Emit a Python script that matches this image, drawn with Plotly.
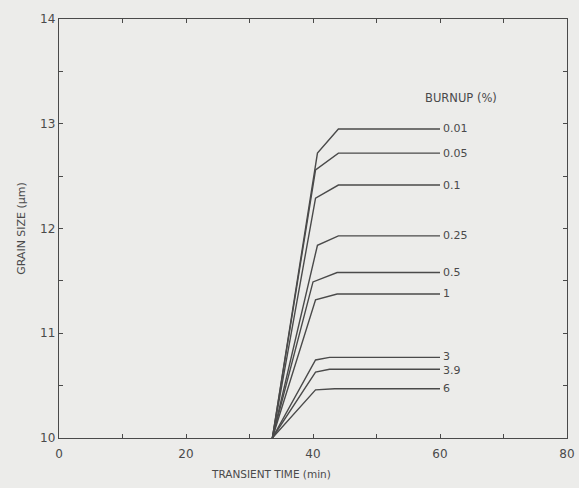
import plotly.graph_objects as go

burnup_labels = ["0.01", "0.05", "0.1", "0.25", "0.5", "1", "3", "3.9", "6"]
start_time = 33.6
start_size = 10.0
knee_time = [40.7, 40.4, 40.4, 40.7, 40.0, 40.4, 40.4, 40.4, 40.4]
knee_size = [12.72, 12.56, 12.29, 11.84, 11.49, 11.32, 10.745, 10.63, 10.46]
flat_time = [44.0, 44.0, 44.0, 44.0, 43.8, 43.8, 42.6, 42.6, 43.4]
final_size = [12.95, 12.72, 12.415, 11.93, 11.58, 11.375, 10.77, 10.656, 10.47]
end_time = 60.0

x_tick_vals = [0, 20, 40, 60, 80]
x_tick_text = ["0", "20", "40", "60", "80"]
y_tick_vals = [10, 11, 12, 13, 14]
y_tick_text = ["10", "11", "12", "13", "14"]

ink = "#4a4a4a"
bg = "#ececea"
font_family = "DejaVu Sans, Liberation Sans, sans-serif"

fig = go.Figure()
for i, lab in enumerate(burnup_labels):
    fig.add_trace(go.Scatter(
        x=[start_time, knee_time[i], flat_time[i], end_time],
        y=[start_size, knee_size[i], final_size[i], final_size[i]],
        mode="lines", line=dict(color=ink, width=1.4),
        showlegend=False, hoverinfo="skip"))
    yshift = 0
    if lab == "3":
        yshift = 1
    if lab == "3.9":
        yshift = -1
    fig.add_annotation(x=end_time, y=final_size[i], text=lab, showarrow=False,
                       xanchor="left", yanchor="middle", xshift=1, yshift=yshift,
                       font=dict(size=11, color=ink, family=font_family))

fig.add_annotation(x=63.3, y=13.25, text="BURNUP (%)", showarrow=False,
                   xanchor="center", yanchor="middle",
                   font=dict(size=11.5, color=ink, family=font_family))

fig.add_annotation(xref="paper", yref="paper", x=(271 - 59) / 508, y=-(474 - 438) / 419,
                   text="TRANSIENT TIME (min)", showarrow=False,
                   xanchor="center", yanchor="middle",
                   font=dict(size=10.5, color=ink, family=font_family))

axis_common = dict(showline=True, linecolor=ink, linewidth=1.4, mirror="ticks",
                   ticks="inside", ticklen=4, tickcolor=ink, tickwidth=1.2,
                   showgrid=False, zeroline=False,
                   tickfont=dict(size=12, color=ink, family=font_family))

fig.update_xaxes(range=[0, 80], tickvals=x_tick_vals, ticktext=x_tick_text,
                 ticklabelstandoff=4,
                 minor=dict(dtick=10, ticks="inside", ticklen=4, tickcolor=ink, showgrid=False),
                 **axis_common)
fig.update_yaxes(range=[10, 14], tickvals=y_tick_vals, ticktext=y_tick_text,
                 minor=dict(dtick=0.5, ticks="inside", ticklen=4, tickcolor=ink, showgrid=False),
                 title=dict(text="GRAIN SIZE (μm)", standoff=12,
                            font=dict(size=11, color=ink, family=font_family)),
                 **axis_common)

fig.update_layout(width=579, height=488, margin=dict(l=59, r=12, t=19, b=50, autoexpand=False),
                  paper_bgcolor=bg, plot_bgcolor=bg)
fig.write_html("out.html", config={"displayModeBar": False},
               post_script="document.body.style.margin='0';document.body.style.background='%s';document.body.style.overflow='hidden';" % bg)
